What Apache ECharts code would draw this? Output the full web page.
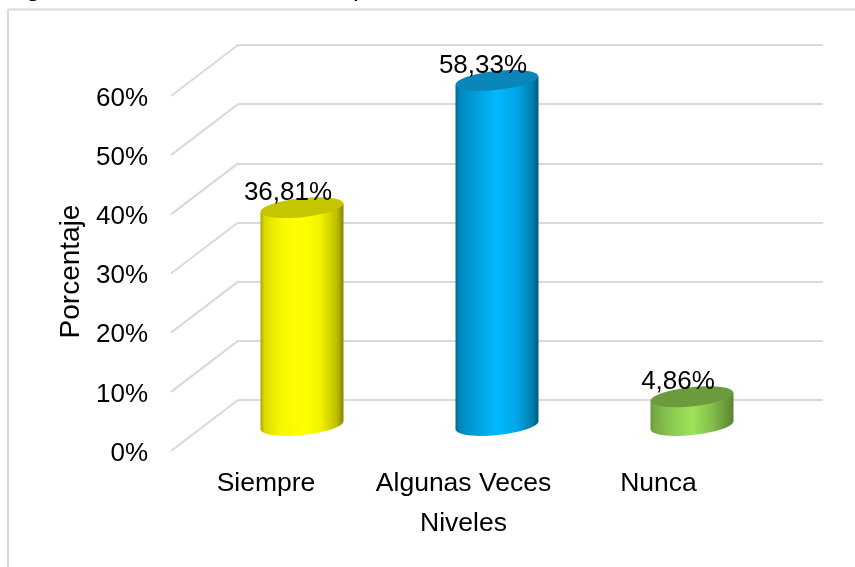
<!DOCTYPE html>
<html>
<head>
<meta charset="utf-8">
<style>html,body{margin:0;padding:0;background:#fff}#c{width:855px;height:567px}</style>
<script src="https://cdn.jsdelivr.net/npm/echarts@6/dist/echarts.min.js"></script>
</head>
<body>
<div id="c"></div>
<script>
var categories = ['Siempre', 'Algunas Veces', 'Nunca'];
var values = [36.81, 58.33, 4.86];
var yTicks = [0, 10, 20, 30, 40, 50, 60];
var gradientOffsets = [0, 0.05, 0.25, 0.5, 0.72, 0.92, 1];
var barPalettes = [
  {stops:['#a8a800','#dcdc00','#f8f800','#ffff00','#f4f400','#bcbc00','#858500'], top:'#c6c600'},
  {stops:['#08688e','#0087bb','#009fdc','#00b9ff','#00a8e8','#007fb0','#005c80'], top:'#0a86bb'},
  {stops:['#6a9a3c','#77aa45','#8ac950','#9de25a','#86c24e','#669639','#5a8532'], top:'#6b9b3c'}
];
var font = 'Liberation Sans';
var fs = 26;
var gridColor = '#d9d9d9';

function grad(p){
  return {type:'linear',x:0,y:0,x2:1,y2:0,colorStops:gradientOffsets.map(function(o,k){return {offset:o,color:p.stops[k]};})};
}
var RX=41.5, RY=9.5, ROT=0.105, TILT=4;

var chart = echarts.init(document.getElementById('c'), null, {renderer:'canvas'});
chart.setOption({
  animation:false,
  backgroundColor:'#fff',
  graphic:[
    {type:'line',silent:true,shape:{x1:8,y1:9.5,x2:855,y2:9.5},style:{stroke:gridColor,lineWidth:2}},
    {type:'line',silent:true,shape:{x1:8,y1:9,x2:8,y2:567},style:{stroke:gridColor,lineWidth:2}},
    {type:'text',silent:true,x:26,y:-11.5,style:{text:'g',fill:'#000',fontFamily:font,fontSize:fs,verticalAlign:'middle'}},
    {type:'text',silent:true,x:353,y:-11.5,style:{text:'p',fill:'#000',fontFamily:font,fontSize:fs,verticalAlign:'middle'}}
  ],
  grid:[
    {left:238,right:32,top:45,height:355},      // back wall
    {left:204.5,right:65.5,top:70.5,height:355},// plane of the cylinders
    {left:171,right:99,top:96,height:355}       // front edge with labels
  ],
  xAxis:[
    {gridIndex:0,type:'category',data:categories,show:false},
    {gridIndex:1,type:'category',data:categories,show:false},
    {gridIndex:2,type:'category',
     data:categories.map(function(c,i){return i===0?{value:c,textStyle:{padding:[0,5,0,0]}}:c;}),
     axisLine:{show:false},axisTick:{show:false},
     axisLabel:{interval:0,color:'#000',fontFamily:font,fontSize:26.5,margin:19},
     name:'Niveles',nameLocation:'middle',nameGap:59,nameTextStyle:{color:'#000',fontFamily:font,fontSize:26.5}}
  ],
  yAxis:[
    {gridIndex:0,type:'value',min:0,max:60,interval:10,axisLabel:{show:false},axisLine:{show:false},axisTick:{show:false},
     splitLine:{show:true,lineStyle:{color:gridColor,width:2}}},
    {gridIndex:1,type:'value',min:0,max:60,interval:10,show:false,splitLine:{show:false}},
    {gridIndex:2,type:'value',min:0,max:60,interval:10,axisLine:{show:false},axisTick:{show:false},splitLine:{show:false},
     axisLabel:{color:'#000',margin:23,formatter:'{t|{value}%}',
       rich:{t:{color:'#000',fontFamily:font,fontSize:fs,padding:[5,0,0,0]}}},
     name:'Porcentaje',nameLocation:'middle',nameGap:81,nameTextStyle:{color:'#000',fontFamily:font,fontSize:28,padding:[0,0,0,4]}}
  ],
  series:[
    {type:'custom',xAxisIndex:2,yAxisIndex:2,z:1,silent:true,
     data:yTicks.map(function(t){return [0,t];}),
     encode:{x:0,y:1},
     renderItem:function(params,api){
       var p=api.coord([0,api.value(1)]);
       var x0=params.coordSys.x;
       return {type:'line',shape:{x1:x0,y1:p[1],x2:x0+67,y2:p[1]-51},style:{stroke:gridColor,lineWidth:2,fill:null}};
     }},
    {type:'custom',xAxisIndex:1,yAxisIndex:1,z:2,silent:true,
     data:values.map(function(v,i){return [i,v];}),
     encode:{x:0,y:1},
     renderItem:function(params,api){
       var i=api.value(0), v=api.value(1);
       var top=api.coord([i,v]), base=api.coord([i,0]);
       var cx=top[0], pal=barPalettes[i], g=grad(pal);
       var label=v.toFixed(2).replace('.',',')+'%';
       return {type:'group',children:[
         {type:'ellipse',shape:{cx:cx,cy:base[1],rx:RX,ry:RY},originX:cx,originY:base[1],rotation:ROT,style:{fill:g}},
         {type:'polygon',shape:{points:[[cx-RX,top[1]+TILT],[cx+RX,top[1]-TILT],[cx+RX,base[1]-TILT],[cx-RX,base[1]+TILT]]},style:{fill:g}},
         {type:'ellipse',shape:{cx:cx,cy:top[1],rx:RX,ry:RY},originX:cx,originY:top[1],rotation:ROT,style:{fill:pal.top}},
         {type:'text',style:{text:label,x:cx-14,y:top[1]-15,align:'center',verticalAlign:'middle',fill:'#000',fontFamily:font,fontSize:fs}}
       ]};
     }}
  ]
});
</script>
</body>
</html>
